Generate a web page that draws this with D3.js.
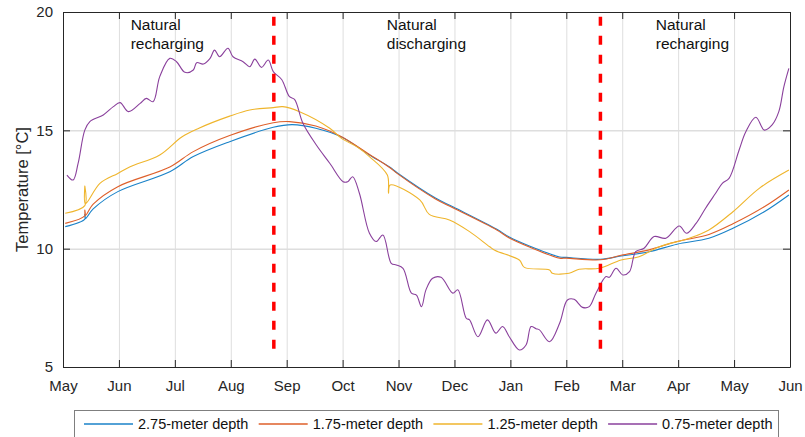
<!DOCTYPE html>
<html>
<head>
<meta charset="utf-8">
<script src="https://cdn.jsdelivr.net/npm/d3@7"></script>
<style>
  body { margin: 0; background: #fff; }
  svg { display: block; font-family: "Liberation Sans", Arial, sans-serif; }
  .grid line { stroke: #dedede; }
  .grid path { display: none; }
  .axis path, .axis line { stroke: #262626; }
  .axis text { fill: #262626; font-size: 15px; }
</style>
</head>
<body>
<div id="chart"></div>
<script>
// Soil temperature at four depths, May to the following June

// month labels on the x axis (x values below are month index from May 1st)
const monthLabels = ['May', 'Jun', 'Jul', 'Aug', 'Sep', 'Oct', 'Nov', 'Dec', 'Jan', 'Feb', 'Mar', 'Apr', 'May', 'Jun'];
const tempTicks = [5, 10, 15, 20];

// [month index, temperature °C]
const depth275 = [
  [0.04, 10.93], [0.39, 11.25], [0.39, 11.45], [0.40, 11.27], [0.54, 11.68], [0.98, 12.41],
  [1.91, 13.25], [2.33, 13.89], [2.98, 14.52], [3.76, 15.13], [4.10, 15.24], [4.52, 15.09],
  [4.98, 14.72], [5.48, 13.96], [5.84, 13.45], [5.98, 13.2], [6.66, 12.14], [6.98, 11.76],
  [7.75, 10.83], [7.98, 10.49], [8.34, 10.11], [8.88, 9.65], [9.0, 9.63], [9.61, 9.55],
  [9.98, 9.69], [10.48, 9.87], [10.98, 10.19], [11.55, 10.44], [11.98, 10.86], [12.54, 11.56],
  [12.98, 12.27]
];
const depth175 = [
  [0.04, 11.07], [0.39, 11.39], [0.39, 11.63], [0.40, 11.40], [0.54, 11.88], [0.98, 12.62],
  [1.91, 13.45], [2.33, 14.1], [2.98, 14.78], [3.76, 15.32], [4.05, 15.37], [4.52, 15.18],
  [4.98, 14.73], [5.48, 13.98], [5.84, 13.43], [5.98, 13.17], [6.66, 12.1], [6.98, 11.72],
  [7.75, 10.8], [7.98, 10.45], [8.34, 10.07], [8.88, 9.6], [9.0, 9.6], [9.61, 9.53],
  [9.98, 9.72], [10.48, 9.95], [10.98, 10.3], [11.55, 10.6], [11.98, 11.05], [12.54, 11.77],
  [12.98, 12.48]
];
const depth125 = [
  [0.04, 11.5], [0.39, 11.82], [0.39, 12.65], [0.40, 11.9], [0.66, 12.76], [0.98, 13.18],
  [1.2, 13.46], [1.73, 13.96], [2.13, 14.73], [2.43, 15.09], [2.98, 15.6], [3.34, 15.86],
  [3.76, 15.96], [3.93, 16.0], [4.23, 15.79], [4.77, 15.09], [4.98, 14.66], [5.27, 14.28],
  [5.48, 13.89], [5.80, 13.11], [5.82, 12.34], [5.85, 12.69], [6.38, 12.06], [6.55, 11.45],
  [6.91, 11.21], [7.27, 10.72], [7.63, 10.08], [7.73, 9.92], [8.16, 9.52], [8.25, 9.21],
  [8.7, 9.1], [8.75, 8.96], [9.05, 8.96], [9.23, 9.13], [9.59, 9.17], [9.98, 9.52],
  [10.3, 9.66], [10.66, 10.08], [11.2, 10.44], [11.55, 10.79], [11.98, 11.56], [12.45, 12.55],
  [12.98, 13.32]
];
const depth075 = [
  [0.07, 13.11], [0.18, 12.9], [0.27, 13.6], [0.39, 15.01], [0.48, 15.37], [0.72, 15.65],
  [0.90, 16.0], [1.02, 16.17], [1.17, 15.79], [1.38, 16.14], [1.49, 16.35], [1.61, 16.21],
  [1.73, 17.27], [1.91, 18.04], [2.03, 17.9], [2.18, 17.45], [2.33, 17.55], [2.39, 17.86],
  [2.51, 17.8], [2.63, 18.04], [2.71, 18.39], [2.80, 18.11], [2.95, 18.47], [3.04, 18.11],
  [3.22, 17.9], [3.34, 17.69], [3.43, 18.01], [3.55, 17.66], [3.67, 17.97], [3.76, 17.48],
  [3.91, 17.15], [4.05, 16.42], [4.14, 16.31], [4.29, 15.3], [4.53, 14.38], [4.77, 13.61],
  [5.01, 12.83], [5.09, 12.83], [5.18, 13.04], [5.30, 12.34], [5.48, 10.65], [5.60, 10.3],
  [5.72, 10.58], [5.87, 9.38], [5.96, 9.31], [6.08, 9.17], [6.23, 8.12], [6.32, 8.04],
  [6.41, 7.55], [6.49, 8.26], [6.61, 8.75], [6.76, 8.79], [6.97, 8.12], [7.06, 8.26],
  [7.21, 7.06], [7.27, 6.99], [7.42, 6.28], [7.59, 6.99], [7.74, 6.43], [7.86, 6.71],
  [7.98, 6.28], [8.16, 5.72], [8.28, 5.93], [8.37, 6.71], [8.46, 6.62], [8.52, 6.57],
  [8.70, 6.07], [8.88, 6.85], [9.02, 7.83], [9.14, 7.86], [9.29, 7.52], [9.41, 7.55],
  [9.53, 8.12], [9.71, 8.82], [9.77, 8.79], [9.89, 9.17], [10.01, 8.89], [10.13, 9.03],
  [10.24, 9.87], [10.39, 10.02], [10.57, 10.51], [10.78, 10.44], [11.02, 10.96], [11.15, 10.65],
  [11.32, 11.07], [11.49, 11.71], [11.67, 12.34], [11.79, 12.76], [11.91, 12.97], [12.09, 14.17],
  [12.21, 14.94], [12.39, 15.55], [12.54, 15.01], [12.68, 15.23], [12.80, 15.79], [12.89, 16.84],
  [12.98, 17.62]
];

const seriesNames = ['2.75-meter depth', '1.75-meter depth', '1.25-meter depth', '0.75-meter depth'];
const seriesColors = ['#1a82c8', '#de5f2a', '#efb52c', '#8a409c'];
const seriesData = [depth275, depth175, depth125, depth075];

// phase boundaries (month index) and labels
const boundaries = [3.77, 9.61];
const phaseLabels = [
  { at: 1.21, lines: ['Natural', 'recharging'] },
  { at: 5.79, lines: ['Natural', 'discharging'] },
  { at: 10.6, lines: ['Natural', 'recharging'] }
];

const W = 805, H = 437;
const margin = { top: 12, right: 15, bottom: 70, left: 63 };
const width = W - margin.left - margin.right;
const height = H - margin.top - margin.bottom;

const svg = d3.select('#chart').append('svg')
  .attr('width', W)
  .attr('height', H);

const g = svg.append('g')
  .attr('transform', `translate(${margin.left},${margin.top})`);

const x = d3.scaleLinear().domain([0, monthLabels.length - 1]).range([0, width]);
const y = d3.scaleLinear().domain([5, 20]).range([height, 0]);

// grid
g.append('g').attr('class', 'grid')
  .attr('transform', `translate(0,${height})`)
  .call(d3.axisBottom(x).tickValues(d3.range(1, monthLabels.length - 1)).tickSize(-height).tickFormat(''));
g.append('g').attr('class', 'grid')
  .call(d3.axisLeft(y).tickValues([10, 15]).tickSize(-width).tickFormat(''))
  .selectAll('line').attr('stroke', '#e4e4e4').attr('stroke-width', 1.5);

// phase labels
phaseLabels.forEach(p => {
  const t = g.append('text')
    .attr('x', x(p.at))
    .attr('y', 18)
    .attr('font-size', 15.5)
    .attr('fill', '#111');
  p.lines.forEach((l, i) => {
    t.append('tspan').attr('x', x(p.at)).attr('dy', i === 0 ? 0 : 19).text(l);
  });
});

// series
const line = d3.line()
  .x(d => x(d[0]))
  .y(d => y(d[1]))
  .curve(d3.curveCatmullRom.alpha(0.5));

seriesData.forEach((data, i) => {
  g.append('path')
    .datum(data)
    .attr('fill', 'none')
    .attr('stroke', seriesColors[i])
    .attr('stroke-width', 1.1)
    .attr('d', line);
});

// boundary lines
boundaries.forEach(b => {
  g.append('line')
    .attr('x1', x(b)).attr('x2', x(b))
    .attr('y1', y(19.8)).attr('y2', y(5.42))
    .attr('stroke', '#ff0000')
    .attr('stroke-width', 3.5)
    .attr('stroke-dasharray', '9,10');
});

// axes (ticks pointing inward)
g.append('g').attr('class', 'axis')
  .attr('transform', `translate(0,${height})`)
  .call(d3.axisBottom(x).tickValues(d3.range(monthLabels.length)).tickFormat(i => monthLabels[i])
    .tickSizeInner(-7).tickSizeOuter(0).tickPadding(13));
g.append('g').attr('class', 'axis')
  .call(d3.axisTop(x).tickValues(d3.range(monthLabels.length)).tickFormat('')
    .tickSizeInner(-7).tickSizeOuter(0));
g.append('g').attr('class', 'axis')
  .call(d3.axisLeft(y).tickValues(tempTicks).tickSizeInner(-7).tickSizeOuter(0).tickPadding(10));
g.append('g').attr('class', 'axis')
  .attr('transform', `translate(${width},0)`)
  .call(d3.axisRight(y).tickValues(tempTicks).tickFormat('').tickSizeInner(-7).tickSizeOuter(0));

// y label
svg.append('text')
  .attr('transform', `translate(22,${margin.top + height / 2}) rotate(-90)`)
  .attr('text-anchor', 'middle')
  .attr('dy', '0.35em')
  .attr('font-size', 16.5)
  .attr('fill', '#262626')
  .text('Temperature [°C]');

// legend
const legend = svg.append('g').attr('transform', 'translate(74,410)');
legend.append('rect')
  .attr('x', 0.5).attr('y', 0.5)
  .attr('width', 704).attr('height', 40)
  .attr('fill', '#fff')
  .attr('stroke', '#7f7f7f');

const items = legend.selectAll('.legend-item')
  .data(seriesNames)
  .enter()
  .append('g')
  .attr('class', 'legend-item')
  .attr('transform', (d, i) => `translate(${10 + i * 174.7},14)`);

items.append('line')
  .attr('x1', 0).attr('x2', 49)
  .attr('stroke', (d, i) => seriesColors[i])
  .attr('stroke-width', 1.5);

items.append('text')
  .attr('x', 54)
  .attr('dy', '0.35em')
  .attr('font-size', 14.5)
  .attr('fill', '#111')
  .text(d => d);
</script>
</body>
</html>
